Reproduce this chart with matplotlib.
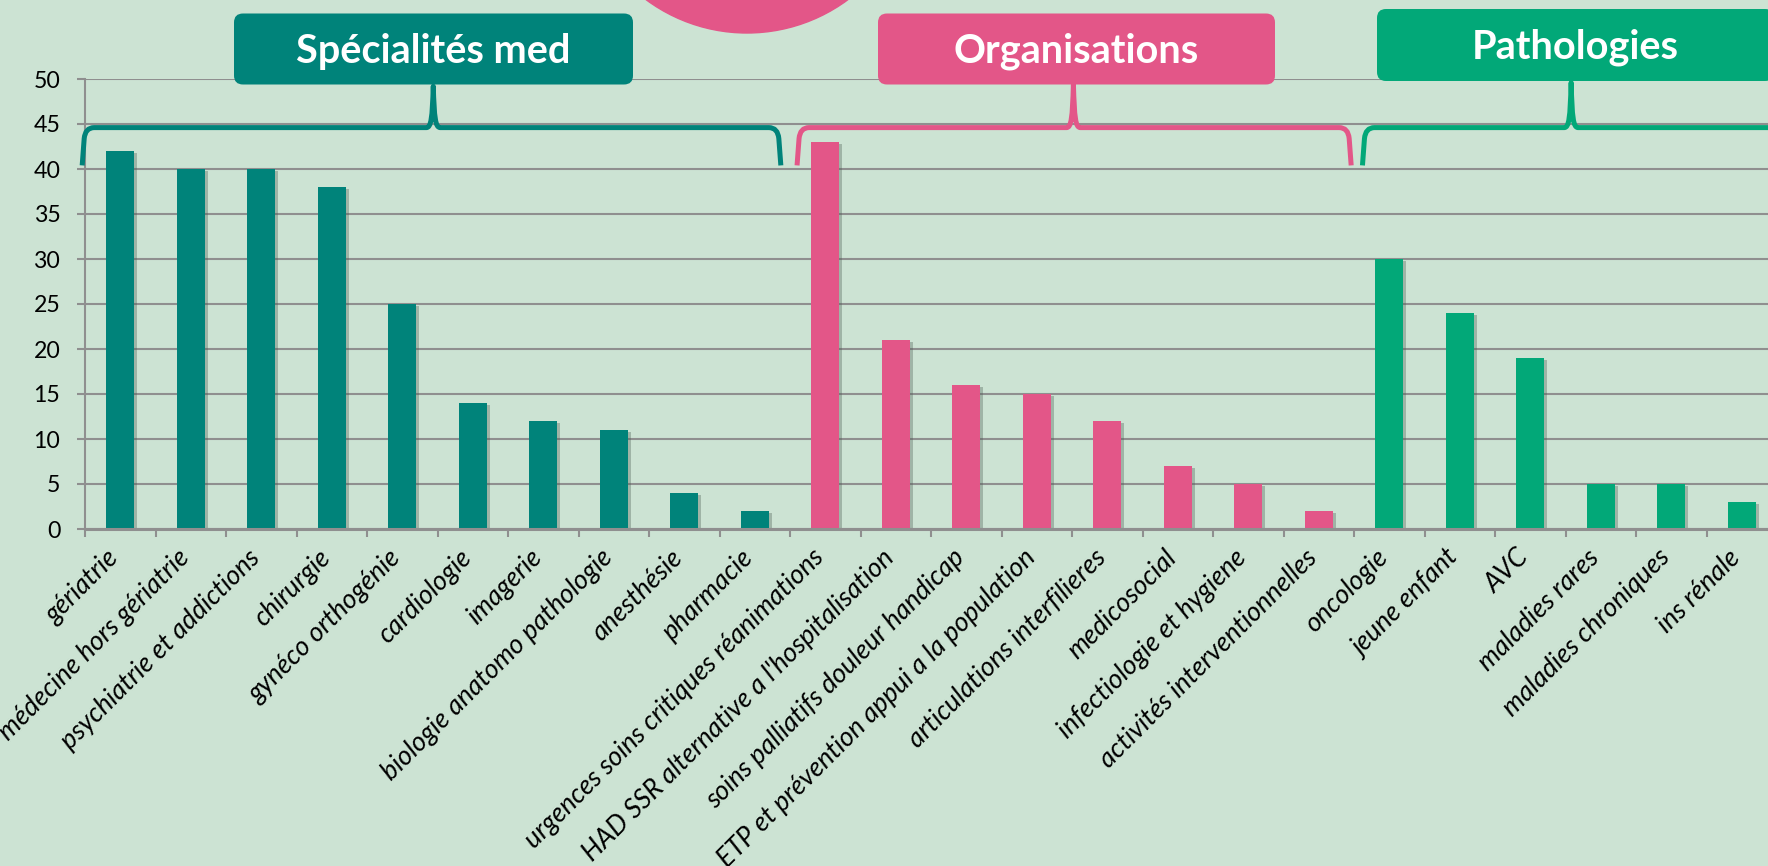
import matplotlib
import numpy as np

matplotlib.use("Agg")
import matplotlib.pyplot as plt
import matplotlib.patheffects as pe
from matplotlib.patches import FancyBboxPatch, Circle, PathPatch
from matplotlib.path import Path
from matplotlib.transforms import ScaledTranslation

categories = [
    "gériatrie", "médecine hors gériatrie", "psychiatrie et addictions", "chirurgie",
    "gynéco orthogénie", "cardiologie", "imagerie", "biologie anatomo pathologie",
    "anesthésie", "pharmacie",
    "urgences soins critiques réanimations", "HAD SSR alternative a l'hospitalisation",
    "soins palliatifs douleur handicap", "ETP et prévention appui a la population",
    "articulations interfilieres", "medicosocial", "infectiologie et hygiene",
    "activités interventionnelles",
    "oncologie", "jeune enfant", "AVC", "maladies rares", "maladies chroniques", "ins rénale",
]
values = [42, 40, 40, 38, 25, 14, 12, 11, 4, 2,
          43, 21, 16, 15, 12, 7, 5, 2,
          30, 24, 19, 5, 5, 3]
groups = ["Spécialités med"] * 10 + ["Organisations"] * 8 + ["Pathologies"] * 6
group_names = ["Spécialités med", "Organisations", "Pathologies"]
group_colors = ["#00837A", "#E35688", "#02A878"]
y_ticks = np.arange(0, 51, 5)

W, H = 1768, 866
BG = "#CCE3D3"
GRID = "#8f8f8f"
color_of = dict(zip(group_names, group_colors))

plt.rcParams["font.family"] = ["Lato", "DejaVu Sans"]

fig = plt.figure(figsize=(W / 100, H / 100), dpi=100, facecolor=BG)
ax = fig.add_axes([85 / W, (H - 529) / H, 24 * 70.5 / W, 450 / H])
ax.set_facecolor(BG)

x = np.arange(len(categories))
bars = ax.bar(x, values, width=0.4, color=[color_of[g] for g in groups], zorder=3)
for b in bars:
    b.set_path_effects([pe.SimplePatchShadow(offset=(2, -1.5), shadow_rgbFace="#4d5e53", alpha=0.35),
                        pe.Normal()])

ax.set_xlim(-0.5, len(categories) - 0.5)
ax.set_ylim(0, 50)
ax.set_yticks(y_ticks)
ax.yaxis.grid(True, color=GRID, lw=1.5)
ax.set_axisbelow(True)
for s in ["top", "right"]:
    ax.spines[s].set_visible(False)
ax.spines["left"].set_color(GRID)
ax.spines["left"].set_linewidth(1.5)
ax.spines["bottom"].set_color(GRID)
ax.spines["bottom"].set_linewidth(2.2)
ax.spines["bottom"].set_zorder(4)

ax.set_xticks(x)
ax.set_xticklabels(categories, rotation=45, ha="right", va="baseline", rotation_mode="anchor",
                   fontsize=19.2, fontstyle="italic")
shift = ScaledTranslation(0.08, 0, fig.dpi_scale_trans)
for lab in ax.get_xticklabels():
    lab.set_transform(lab.get_transform() + shift)
ax.set_xticks(np.arange(-0.5, len(categories)), minor=True)
ax.tick_params(axis="x", which="major", length=0, pad=21.6)
ax.tick_params(axis="x", which="minor", length=6, width=1.5, color=GRID)
ax.tick_params(axis="y", length=5.8, width=1.5, color=GRID, labelsize=16.7, pad=12)

# overlay in pixel coordinates for the group headers
ov = fig.add_axes([0, 0, 1, 1], zorder=5)
ov.set_xlim(0, W)
ov.set_ylim(H, 0)
ov.axis("off")
ov.patch.set_alpha(0)


def to_px(xd, yd):
    X, Y = ax.transData.transform((xd, yd))
    return X, H - Y


def brace(xl, xr, xm, ytop_val, color):
    l, yh = to_px(xl, 44.6)
    r, _ = to_px(xr, 44.6)
    m, ytop = to_px(xm, ytop_val)
    _, ybot = to_px(0, 40.4)
    verts = [
        (l, ybot), (l + 2, yh + 11),
        (l + 3, yh), (l + 12, yh),
        (m - 7, yh),
        (m - 2, yh), (m - 1, yh - 10), (m, ytop),
        (m + 1, yh - 10), (m + 2, yh), (m + 7, yh),
        (r - 12, yh),
        (r - 3, yh), (r - 2, yh + 11),
        (r, ybot),
    ]
    codes = [Path.MOVETO, Path.LINETO,
             Path.CURVE3, Path.CURVE3,
             Path.LINETO,
             Path.CURVE4, Path.CURVE4, Path.CURVE4,
             Path.CURVE4, Path.CURVE4, Path.CURVE4,
             Path.LINETO,
             Path.CURVE3, Path.CURVE3,
             Path.LINETO]
    ov.add_patch(PathPatch(Path(verts, codes), fill=False, ec=color, lw=3.6,
                           capstyle="butt", joinstyle="round"))


brace(-0.54, 9.37, 4.44, 49.2, group_colors[0])
brace(9.6, 17.46, 13.52, 49.4, group_colors[1])
brace(17.62, 24.8, 20.58, 49.6, group_colors[2])

ov.add_patch(Circle((747, -136.5), 169.5, color=group_colors[1]))

boxes = [(234, 13.5, 399, 71), (878, 13.5, 397, 71), (1377, 9, 397, 72)]
for name, col, (bx, by, bw, bh) in zip(group_names, group_colors, boxes):
    ov.add_patch(FancyBboxPatch((bx, by), bw, bh, boxstyle="round,pad=0,rounding_size=9",
                                fc=col, ec="none"))
    ov.text(bx + bw / 2, by + bh / 2 + 2, name, color="white", fontsize=28.5,
            fontweight="bold", ha="center", va="center")

fig.savefig("out.png", dpi=100, facecolor=BG)
